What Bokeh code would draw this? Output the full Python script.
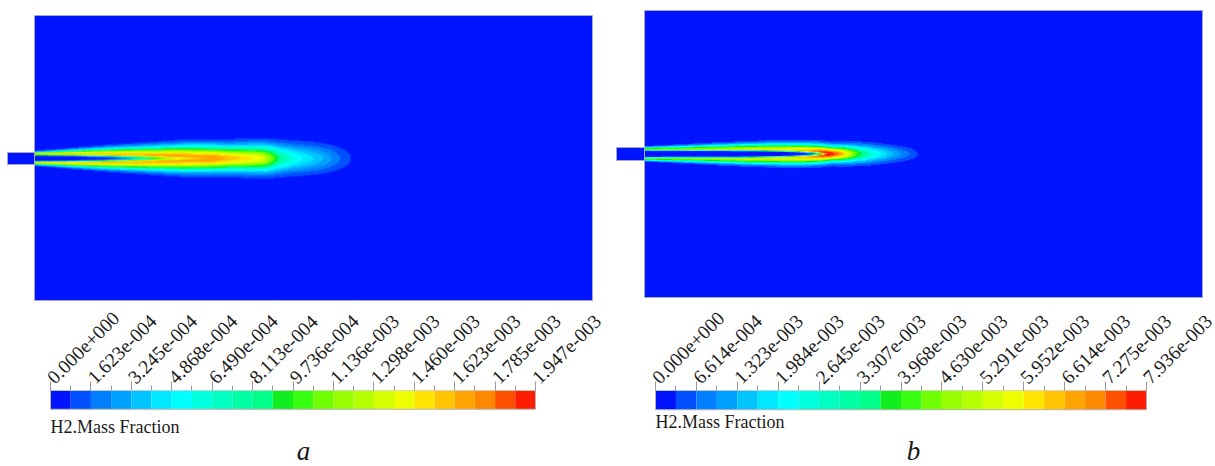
import numpy as np
from math import pi
from bokeh.plotting import figure
from bokeh.layouts import row, column
from bokeh.models import (Range1d, FixedTicker, CustomJSTickFormatter,
                          LinearColorMapper, Label)
from bokeh.embed import file_html
from bokeh.resources import INLINE

# ---------------- data ----------------
PALETTE = ["#0014ff", "#0050ff", "#0080ff", "#00a0ff", "#00c4ff", "#00e8ff",
           "#00ffff", "#00ffdc", "#00ffc0", "#00ffa4", "#00ff88", "#10ee20",
           "#38ff10", "#70ff00", "#98ff00", "#b4ff00", "#d4ff00", "#f0ff00",
           "#ffe400", "#ffc400", "#ffa400", "#ff8800", "#ff5000", "#ff1c00"]

TITLE = "H2.Mass Fraction"
PANEL_LABELS = ["a", "b"]

TICKS_A = [0.0, 1.623e-4, 3.245e-4, 4.868e-4, 6.490e-4, 8.113e-4, 9.736e-4,
           1.136e-3, 1.298e-3, 1.460e-3, 1.623e-3, 1.785e-3, 1.947e-3]
TICKS_B = [0.0, 6.614e-4, 1.323e-3, 1.984e-3, 2.645e-3, 3.307e-3, 3.968e-3,
           4.630e-3, 5.291e-3, 5.952e-3, 6.614e-3, 7.275e-3, 7.936e-3]

# plume profiles (x along axis from inlet; fractions of max)
A_AMP_X = [0, 40, 100, 150, 180, 196, 215, 228, 236, 245, 258, 268, 278, 288, 297, 305, 316, 326]
A_AMP = [0.78, 0.80, 0.83, 0.85, 0.86, 0.82, 0.76, 0.71, 0.58, 0.42, 0.30, 0.25, 0.21, 0.17, 0.125, 0.085, 0.042, 0.0]
A_R_X = [0, 40, 80, 110, 140, 170, 196]
A_R = [4.2, 4.2, 3.8, 3.2, 2.4, 1.2, 0.0]
A_SI_X = [0, 40, 80, 110, 140, 170]
A_SI = [0.8, 1.0, 1.4, 2.0, 3.0, 3.0]
A_SO_X = [0, 30, 66, 110, 150, 216, 266, 300, 326]
A_SO = [1.4, 2.4, 3.8, 5.3, 6.9, 8.3, 9.2, 9.0, 8.5]

B_AMP_X = [0, 50, 100, 140, 165, 178, 186, 194, 203, 212, 225, 235, 245, 255, 263, 273, 282]
B_AMP = [0.55, 0.60, 0.67, 0.74, 0.84, 0.95, 1.0, 0.90, 0.72, 0.52, 0.34, 0.26, 0.19, 0.13, 0.09, 0.042, 0.0]
B_R_X = [0, 100, 140, 160, 175, 187]
B_R = [4.5, 4.5, 3.9, 3.1, 1.8, 0.0]
B_SI_X = [0, 160, 175, 190]
B_SI = [0.8, 1.0, 1.0, 2.0]
B_SO_X = [0, 23, 70, 123, 187, 223, 256, 282]
B_SO = [1.5, 2.0, 3.0, 4.0, 5.0, 5.8, 5.2, 4.8]

# geometry (domain length, top, bottom, inlet length, inlet half width)
GEOM_A = dict(L=558, top=143, bottom=-142, inlet=27, half=6)
GEOM_B = dict(L=558, top=143.5, bottom=-143.5, inlet=28, half=6.5)

FONT = "Liberation Serif"
TEXT_COLOR = "#1a1a1a"
EDGE = "#a4a8d0"


def field(xs, ys, ax, a, rx, r, six, si, sox, so, vmax):
    X, Y = np.meshgrid(xs, ys)
    A = np.interp(X, ax, a)
    R = np.interp(X, rx, r)
    SI = np.interp(X, six, si)
    SO = np.interp(X, sox, so)
    d = np.abs(Y) - R
    g = np.where(d >= 0, np.exp(-d ** 2 / (2 * SO ** 2)), np.exp(-d ** 2 / (2 * SI ** 2)))
    return A * g * vmax


def main_fig(width, xr, yr, geom, fld, ext, vmax):
    p = figure(width=width, height=302, x_range=Range1d(*xr), y_range=Range1d(*yr),
               x_axis_location=None, y_axis_location=None, toolbar_location=None,
               output_backend="svg", min_border=0, outline_line_color=None)
    p.grid.grid_line_color = None
    p.quad(left=[0], right=[geom["L"]], bottom=[geom["bottom"]], top=[geom["top"]],
           fill_color=PALETTE[0], line_color=None)
    mapper = LinearColorMapper(palette=PALETTE, low=0, high=vmax)
    p.image(image=[fld], x=ext[0], y=ext[1], dw=ext[2], dh=ext[3], color_mapper=mapper)
    p.quad(left=[0], right=[geom["L"]], bottom=[geom["bottom"]], top=[geom["top"]],
           fill_color=None, line_color=EDGE, line_width=1)
    p.quad(left=[-geom["inlet"]], right=[0], bottom=[-geom["half"]], top=[geom["half"]],
           fill_color=PALETTE[0], line_color=EDGE, line_width=1)
    return p


def cbar_fig(width, ticks, bar_left, bar_width, top_border, bar_h, label, label_cx,
             title_y, label_y):
    """Colorbar panel: frame spans full width and from bar top to page bottom."""
    vmax = ticks[-1]
    height = 164
    frame_h = height - top_border
    per_px = vmax / bar_width
    xr = Range1d(-bar_left * per_px, (width - bar_left) * per_px)
    yr = Range1d(1 - frame_h / bar_h, 1)
    p = figure(width=width, height=height, x_range=xr, y_range=yr,
               x_axis_location="above", y_axis_location=None, toolbar_location=None,
               output_backend="svg", min_border_left=0, min_border_right=0,
               min_border_top=top_border, min_border_bottom=0, outline_line_color=None)
    p.grid.grid_line_color = None
    levels = np.linspace(0, vmax, len(PALETTE) + 1)
    p.quad(left=levels[:-1], right=levels[1:], bottom=0, top=1, fill_color=PALETTE,
           line_color=None)
    p.quad(left=[0], right=[vmax], bottom=[0], top=[1], fill_color=None,
           line_color="#b4b4b4", line_width=1)
    ax = p.xaxis[0]
    ax.ticker = FixedTicker(ticks=ticks, minor_ticks=list(levels))
    ax.formatter = CustomJSTickFormatter(code="""
        const s = tick.toExponential(3);
        const parts = s.split("e");
        const e = parseInt(parts[1]);
        const sign = e < 0 ? "-" : "+";
        return parts[0] + "e" + sign + String(Math.abs(e)).padStart(3, "0");
    """)
    ax.major_label_orientation = pi / 4
    ax.major_label_text_font = FONT
    ax.major_label_text_font_size = "19.5px"
    ax.major_label_text_color = TEXT_COLOR
    ax.major_label_standoff = 1
    ax.axis_line_color = None
    ax.major_tick_out = 9
    ax.major_tick_in = 0
    ax.minor_tick_out = 5
    ax.minor_tick_in = 0
    ax.major_tick_line_color = "#9a9a9a"
    ax.minor_tick_line_color = "#9a9a9a"
    p.add_layout(Label(x=bar_left, y=title_y, x_units="screen", y_units="screen", text=TITLE,
                       text_font=FONT, text_font_size="18px", text_color=TEXT_COLOR,
                       text_align="left", text_baseline="alphabetic"))
    p.add_layout(Label(x=label_cx, y=label_y, x_units="screen", y_units="screen",
                       text=label, text_font=FONT, text_font_size="27px",
                       text_font_style="italic", text_color=TEXT_COLOR,
                       text_align="center", text_baseline="alphabetic"))
    return p


VMAX_A = TICKS_A[-1]
VMAX_B = TICKS_B[-1]

xa = np.arange(0, 340, 0.5) + 0.25
ya = np.arange(-32, 32, 0.25) + 0.125
fa = field(xa, ya, A_AMP_X, A_AMP, A_R_X, A_R, A_SI_X, A_SI, A_SO_X, A_SO, VMAX_A)

xb = np.arange(0, 300, 0.5) + 0.25
yb = np.arange(-24, 24, 0.25) + 0.125
fb = field(xb, yb, B_AMP_X, B_AMP, B_R_X, B_R, B_SI_X, B_SI, B_SO_X, B_SO, VMAX_B)

pA = main_fig(607, (-34, 573), (-144, 158), GEOM_A, fa, (0, -32, 340, 64), VMAX_A)
pB = main_fig(608, (-37, 571), (-148.5, 153.5), GEOM_B, fb, (0, -24, 300, 48), VMAX_B)

cA = cbar_fig(607, TICKS_A, 50, 485, 87, 19, PANEL_LABELS[0], 303, 40, 16)
cB = cbar_fig(608, TICKS_B, 48, 491, 85, 20, PANEL_LABELS[1], 306, 45, 16)

layout = row(column(pA, cA, spacing=0), column(pB, cB, spacing=0), spacing=0)

open("out.html", "w").write(file_html(layout, INLINE))
